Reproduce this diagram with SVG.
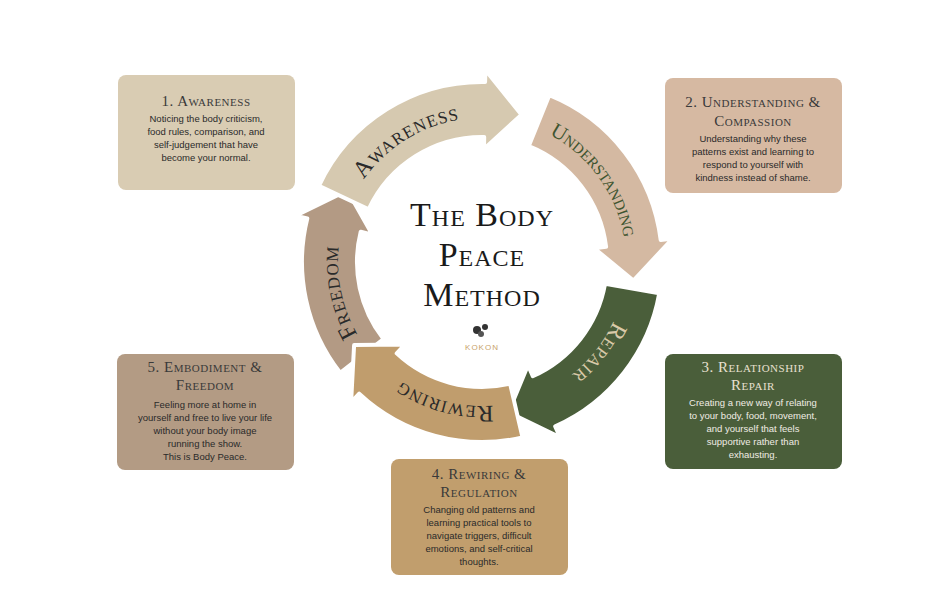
<svg xmlns="http://www.w3.org/2000/svg" width="945" height="591" viewBox="0 0 945 591">
<style>
.ar{stroke:#fff;stroke-width:4;stroke-linejoin:round}
.lab{font-family:"Liberation Serif",serif;font-variant:small-caps;font-size:24px;letter-spacing:1px}
.tt{font-family:"Liberation Serif",serif;font-variant:small-caps;font-size:15px;text-anchor:middle;fill:#3a3a3a;letter-spacing:0.5px}
.bd{font-family:"Liberation Sans",sans-serif;font-size:9.5px;text-anchor:middle;fill:#2a2a2a}
.big{font-family:"Liberation Serif",serif;font-variant:small-caps;font-size:34px;text-anchor:middle;fill:#1a1a1a;letter-spacing:1px}
</style>
<defs>
<path id="p1" d="M353.7,196.6 A144,144 0 0 1 479.5,118.0"/>
<path id="p2" d="M526.5,125.0 A144,144 0 0 1 626,262"/>
<path id="p3" d="M622.9,291.9 A144,144 0 0 1 545.1,391.4"/>
<path id="p4" d="M509.5,403.4 A144,144 0 0 1 387.5,370.7"/>
<path id="p5" d="M365.5,346.6 A144,144 0 0 1 341.2,231.9"/>
</defs>
<rect width="945" height="591" fill="#fff"/>
<g id="connectors">
<path class="ar" fill="#b39a84" d="M340.2,372.8 A180,180 0 0 1 307.3,218.5 L295.7,215.6 L347.4,190.4 L372.4,234.7 L360.7,231.8 A125,125 0 0 0 383.5,339.0 Z"/>
<path class="ar" fill="#d6c9b0" d="M318.9,185.9 A180,180 0 0 1 485.1,82.0 L485.4,70.0 L521.5,114.7 L484.0,149.0 L484.2,137.0 A125,125 0 0 0 368.7,209.2 Z"/>
<path class="ar" fill="#d4b9a2" d="M549.4,95.1 A180,180 0 0 1 660.7,240.1 L672.6,238.6 L633.4,280.6 L594.2,248.2 L606.1,246.8 A125,125 0 0 0 528.8,146.1 Z"/>
<path class="ar" fill="#4a5e3a" d="M659.3,293.2 A180,180 0 0 1 555.2,426.4 L560.1,437.4 L508.5,412.2 L528.0,365.2 L532.8,376.2 A125,125 0 0 0 605.1,283.7 Z"/>
<path class="ar" fill="#c09d6d" d="M522.5,437.4 A180,180 0 0 1 359.2,393.7 L351.1,402.4 L354.1,345.1 L404.9,344.6 L396.7,353.4 A125,125 0 0 0 510.1,383.8 Z"/>
<text class="lab" fill="#2a2a2a"><textPath href="#p1" startOffset="50%" text-anchor="middle">Awareness</textPath></text>
<text class="lab" fill="#3f5530" style="font-size:21px;letter-spacing:0"><textPath href="#p2" startOffset="50%" text-anchor="middle">Understanding</textPath></text>
<text class="lab" fill="#d9c9a8"><textPath href="#p3" startOffset="50%" text-anchor="middle">Repair</textPath></text>
<text class="lab" fill="#2a2a2a"><textPath href="#p4" startOffset="50%" text-anchor="middle">Rewiring</textPath></text>
<text class="lab" fill="#2a2a2a"><textPath href="#p5" startOffset="50%" text-anchor="middle">Freedom</textPath></text>
</g>
<g id="center">
<text class="big" x="482" y="226">The Body</text>
<text class="big" x="482" y="266">Peace</text>
<text class="big" x="482" y="306">Method</text>
<circle cx="477" cy="330" r="4" fill="#333"/><circle cx="485" cy="327" r="3" fill="#333"/><circle cx="481" cy="334" r="3" fill="#555"/>
<text x="482" y="350" font-family="Liberation Sans,sans-serif" font-size="8" fill="#c9a36a" text-anchor="middle" letter-spacing="1">KOKON</text>
</g>
<g id="n1">
<rect x="118" y="75" width="177" height="115" rx="8" fill="#d9ccb3"/>
<text class="tt" x="206" y="106">1. Awareness</text>
<text class="bd" x="206" y="122">Noticing the body criticism,</text>
<text class="bd" x="206" y="135">food rules, comparison, and</text>
<text class="bd" x="206" y="148">self-judgement that have</text>
<text class="bd" x="206" y="161">become your normal.</text>
</g>
<g id="n2">
<rect x="665" y="78" width="177" height="115" rx="8" fill="#d6b9a2"/>
<text class="tt" x="753" y="107">2. Understanding &amp;</text>
<text class="tt" x="753" y="126">Compassion</text>
<text class="bd" x="753" y="142">Understanding why these</text>
<text class="bd" x="753" y="155">patterns exist and learning to</text>
<text class="bd" x="753" y="168">respond to yourself with</text>
<text class="bd" x="753" y="181">kindness instead of shame.</text>
</g>
<g id="n3">
<rect x="665" y="354" width="177" height="115" rx="8" fill="#4a5e3a"/>
<text class="tt" x="753" y="372" style="fill:#e8e0d0">3. Relationship</text>
<text class="tt" x="753" y="390" style="fill:#e8e0d0">Repair</text>
<text class="bd" x="753" y="406" style="fill:#f0ece4">Creating a new way of relating</text>
<text class="bd" x="753" y="419" style="fill:#f0ece4">to your body, food, movement,</text>
<text class="bd" x="753" y="432" style="fill:#f0ece4">and yourself that feels</text>
<text class="bd" x="753" y="445" style="fill:#f0ece4">supportive rather than</text>
<text class="bd" x="753" y="458" style="fill:#f0ece4">exhausting.</text>
</g>
<g id="n4">
<rect x="391" y="459" width="177" height="116" rx="8" fill="#c19e6d"/>
<text class="tt" x="479" y="479">4. Rewiring &amp;</text>
<text class="tt" x="479" y="497">Regulation</text>
<text class="bd" x="479" y="513">Changing old patterns and</text>
<text class="bd" x="479" y="526">learning practical tools to</text>
<text class="bd" x="479" y="539">navigate triggers, difficult</text>
<text class="bd" x="479" y="552">emotions, and self-critical</text>
<text class="bd" x="479" y="565">thoughts.</text>
</g>
<g id="n5">
<rect x="117" y="354" width="177" height="116" rx="8" fill="#b39b84"/>
<text class="tt" x="205" y="372">5. Embodiment &amp;</text>
<text class="tt" x="205" y="390">Freedom</text>
<text class="bd" x="205" y="408">Feeling more at home in</text>
<text class="bd" x="205" y="421">yourself and free to live your life</text>
<text class="bd" x="205" y="434">without your body image</text>
<text class="bd" x="205" y="447">running the show.</text>
<text class="bd" x="205" y="460">This is Body Peace.</text>
</g>
</svg>
